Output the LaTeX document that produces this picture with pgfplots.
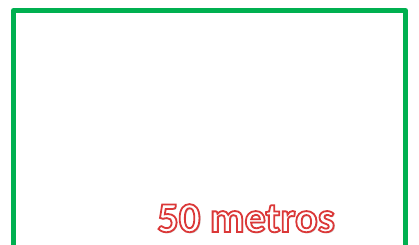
\documentclass[border=0pt]{standalone}
\usepackage{fontspec}
\setmainfont{Carlito}
\usepackage{pgfplots}
\pgfplotsset{compat=1.18}
\definecolor{offgreen}{HTML}{00B050}
\definecolor{txtred}{HTML}{D83A3A}
\newcommand\outlinetext[1]{\special{pdf:literal direct 2 Tr 1.8 w 0.86 0.22 0.22 RG 1 1 1 rg}#1\special{pdf:literal direct 0 Tr 0 0 0 RG 0 0 0 rg}}
\begin{document}
\begin{tikzpicture}
\begin{axis}[
  width=419pt, height=245pt, scale only axis,
  xmin=0, xmax=419, ymin=0, ymax=245,
  hide axis, clip=true,
]
\addplot[draw=offgreen, line width=5pt, line join=round] coordinates {(13.5,-10) (13.5,234.5) (405.5,234.5) (405.5,-10)};
\node[anchor=base, inner sep=0pt, text=black!20] at (axis cs:247.2,11.5) {\fontsize{42.5}{43}\selectfont\bfseries 50 metros};
\node[anchor=base, inner sep=0pt] at (axis cs:246,13) {\fontsize{42.5}{43}\selectfont\bfseries\outlinetext{50 metros}};
\end{axis}
\useasboundingbox (current axis.south west) rectangle (current axis.north east);
\end{tikzpicture}
\end{document}
